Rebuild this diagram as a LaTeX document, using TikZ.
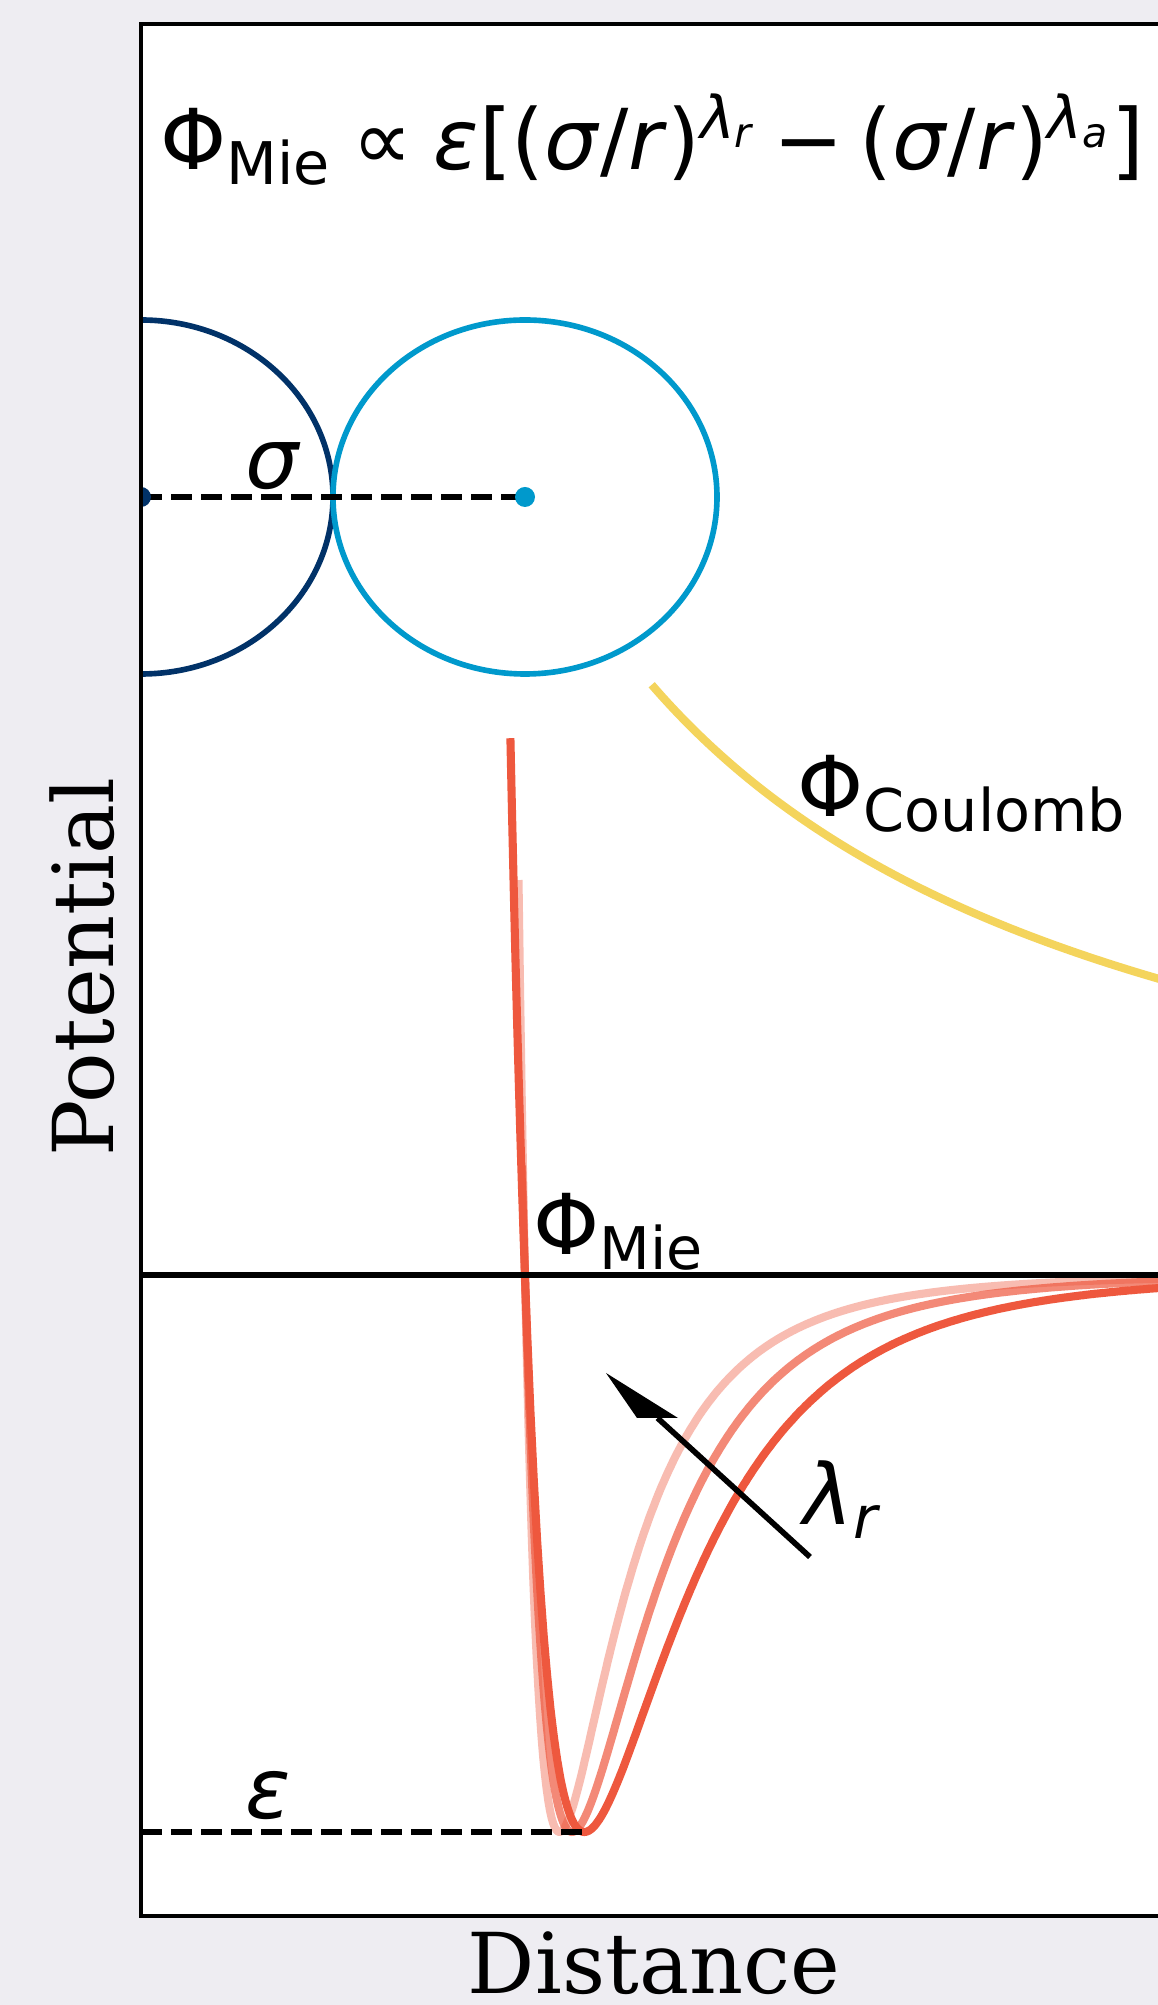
\documentclass[tikz,border=0pt]{standalone}
\usepackage{fontspec}
\usepackage{xcolor}
\usepackage{tikz}
\usetikzlibrary{arrows.meta,positioning,calc}
\newfontfamily\dvsans{DejaVu Sans}[ItalicFont={DejaVu Sans Oblique}]
\newfontfamily\dvserif{DejaVu Serif}
\definecolor{figbg}{RGB}{238,237,242}
\definecolor{navy}{RGB}{1,50,104}
\definecolor{skyb}{RGB}{0,153,204}
\definecolor{mieRed}{RGB}{238,88,62}
\definecolor{coulY}{RGB}{244,212,92}

\begin{document}
\begin{tikzpicture}[>=Stealth,font=\dvsans\fontsize{23.9}{28}\selectfont,
  lbl/.style={inner sep=0pt,anchor=base west},
  axlbl/.style={inner sep=0pt,anchor=base,font=\dvserif\fontsize{23.9}{28}\selectfont},
  mie/.style={mieRed,line width=2.3pt,line join=round},
  dashln/.style={line width=1.6pt,dash pattern=on 0.21cm off 0.09cm}]
  \useasboundingbox (0,0) rectangle (11.58,20.05);
  \fill[figbg] (0,0) rectangle (11.58,20.05);
  \fill[white] (1.41,0.89) rectangle (11.67,19.81);
  \coordinate (cA) at (1.41,15.08);
  \coordinate (cB) at (5.25,15.08);
  \coordinate (epsL) at (1.41,1.73);
  \coordinate (epsR) at (5.83,1.73);
  \coordinate (zeroL) at (1.41,7.30);
  \coordinate (zeroR) at (11.67,7.30);
  \coordinate (lamtail) at (8.10,4.48);
  \coordinate (lamback) at (6.575,5.87);
  \coordinate (lamtip) at (6.06,6.32);
  \begin{scope}
    \clip (1.41,0.89) rectangle (11.67,19.81);
    \draw[coulY,line width=2.3pt] plot[domain=1.33:2.7,samples=100] ({1.41+3.84*\x},{7.30+7.85/\x});
    \draw[mie,opacity=0.4] plot[domain=0.9831:2.7,samples=400] ({1.41+3.84*\x},{7.30+5.57*2.39329*((1/\x)^20-(1/\x)^6)});
    \draw[mie,opacity=0.7] plot[domain=0.9923:2.7,samples=400] ({1.41+3.84*\x},{7.30+5.57*4*((1/\x)^12-(1/\x)^6)});
    \draw[mie] plot[domain=0.962:2.7,samples=400] ({1.41+3.84*\x},{7.30+5.57*9.4815*((1/\x)^8-(1/\x)^6)});
    \draw[navy,line width=1.6pt] (cA) ellipse [x radius=1.92,y radius=1.77];
    \draw[skyb,line width=1.6pt] (cB) ellipse [x radius=1.92,y radius=1.77];
    \draw[dashln] (cA) -- (cB);
    \fill[navy] (cA) circle (0.10);
    \fill[skyb] (cB) circle (0.10);
    \draw[dashln] (epsL) -- (epsR);
    \draw[line width=1.5pt] (zeroL) -- (zeroR);
  \end{scope}
  \draw[line width=1.6pt] (lamtail) -- (lamback);
  \fill (lamtip) -- (6.37,5.87) -- (6.78,5.87) -- cycle;
  \draw[line width=1.15pt] (11.67,19.81) -- (1.41,19.81) -- (1.41,0.89) -- (11.67,0.89);
  \node[lbl] (title) at (1.60,18.35) {Φ\textsubscript{Mie}\hspace{0.25em}∝\hspace{0.25em}\textit{ε}[(\textit{σ}/\textit{r})\textsuperscript{\textit{λ}\textsubscript{\textit{r}}}\hspace{0.19em}−\hspace{0.19em}(\textit{σ}/\textit{r})\textsuperscript{\textit{λ}\textsubscript{\textit{a}}}]};
  \node[lbl] (sig) at (2.45,15.16) {\textit{σ}};
  \node[lbl] (eps) at (2.45,1.87) {\textit{ε}};
  \node[lbl] (phiC) at (7.97,11.88) {Φ\textsubscript{Coulomb}};
  \node[lbl] (phiM) at (5.33,7.50) {Φ\textsubscript{Mie}};
  \node[lbl] (lam) at (8.03,4.80) {\textit{λ}\textsubscript{\textit{r}}};
  \node[axlbl,rotate=90] (ylab) at (1.13,10.38) {Potential};
  \node[axlbl] (xlab) at (6.54,0.12) {Distance};
\end{tikzpicture}
\end{document}
